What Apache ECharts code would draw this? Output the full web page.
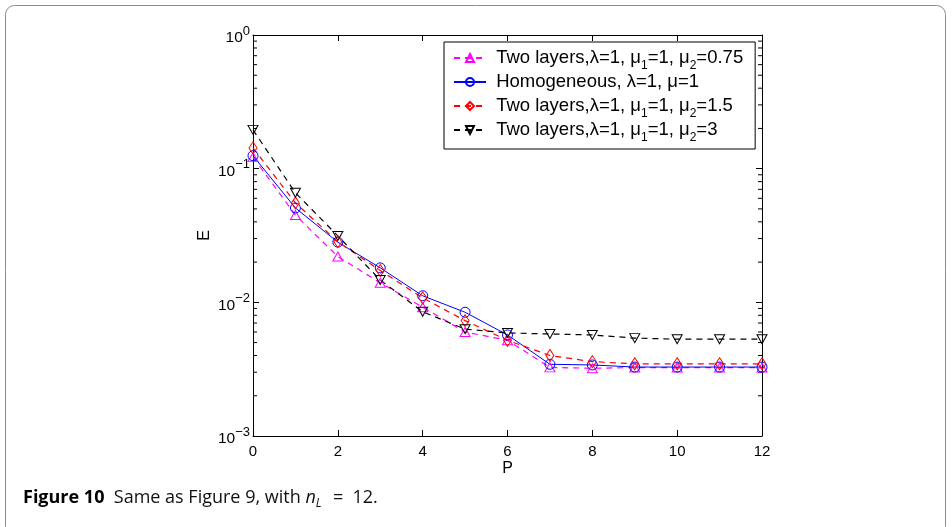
<!DOCTYPE html>
<html>
<head>
<meta charset="utf-8">
<title>Figure 10</title>
<script src="https://cdn.jsdelivr.net/npm/echarts@6/dist/echarts.min.js"></script>
<style>
  html, body { margin: 0; padding: 0; background: #fff; }
  #chart { width: 952px; height: 527px; }
</style>
</head>
<body>
<div id="chart"></div>
<script>
// Polynomial degree P on the x axis
const pValues = [0, 1, 2, 3, 4, 5, 6, 7, 8, 9, 10, 11, 12];

// Error E for each configuration
const twoLayers075 = [0.122, 0.045, 0.022, 0.0140, 0.0092, 0.0060, 0.0052, 0.00326, 0.00321, 0.00325, 0.00325, 0.00325, 0.00325];
const homogeneous  = [0.125, 0.0508, 0.0282, 0.0181, 0.0112, 0.00843, 0.0057, 0.00344, 0.0034, 0.00328, 0.00328, 0.00328, 0.00328];
const twoLayers15  = [0.143, 0.0554, 0.0284, 0.0173, 0.0108, 0.0073, 0.0052, 0.0040, 0.0036, 0.00347, 0.00347, 0.00347, 0.00347];
const twoLayers3   = [0.195, 0.066, 0.0314, 0.0147, 0.0085, 0.0063, 0.0059, 0.0058, 0.0057, 0.0054, 0.0053, 0.0053, 0.0053];

// Series names (legend entries)
const seriesNames = ['twoLayers075', 'homogeneous', 'twoLayers15', 'twoLayers3'];

// Minor tick positions of the logarithmic E axis
const minorTickValues = [];
[0.001, 0.01, 0.1].forEach(function (d) {
  for (let k = 2; k <= 9; k++) minorTickValues.push(+(d * k).toPrecision(3));
});

const FONT = '"Liberation Sans", Arial, Helvetica, sans-serif';
const CAPTION_FONT = '"Open Sans", "Noto Sans", sans-serif';

// Legend labels; every row carries a subscript slot so all rows share one height
const legendLabels = {
  twoLayers075: '{t| Two layers,λ=1, μ}{s|1}{t|=1, μ}{s|2}{t|=0.75}',
  homogeneous: '{t| Homogeneous, λ=1, μ=1}{s| }',
  twoLayers15: '{t| Two layers,λ=1, μ}{s|1}{t|=1, μ}{s|2}{t|=1.5}',
  twoLayers3: '{t| Two layers,λ=1, μ}{s|1}{t|=1, μ}{s|2}{t|=3}'
};

function pairs(ys) {
  return pValues.map(function (p, i) { return [p, ys[i]]; });
}

function lineSeries(name, ys, color, symbol, size, rotate, dashed, width) {
  return {
    name: name,
    type: 'line',
    data: pairs(ys),
    symbol: symbol,
    symbolSize: size,
    symbolRotate: rotate,
    showAllSymbol: true,
    lineStyle: { color: color, width: width, type: dashed ? [6, 5] : 'solid' },
    itemStyle: { color: 'rgba(255,255,255,0)', borderColor: color, borderWidth: 1 },
    emphasis: { disabled: true },
    animation: false,
    z: 3
  };
}

const chart = echarts.init(document.getElementById('chart'), null, { renderer: 'canvas' });

const option = {
  backgroundColor: '#fff',
  animation: false,
  grid: { left: 253, top: 35, right: 190, bottom: 91 },
  legend: {
    orient: 'vertical',
    left: 444,
    top: 42,
    padding: [2, 12, 5, 9],
    itemGap: -4,
    itemWidth: 32,
    itemHeight: 10,
    borderColor: '#000',
    borderWidth: 1,
    backgroundColor: '#fff',
    selectedMode: false,
    data: seriesNames,
    formatter: function (name) { return legendLabels[name]; },
    textStyle: {
      rich: {
        t: { fontFamily: FONT, fontSize: 18.5, color: '#000', lineHeight: 20 },
        s: { fontFamily: FONT, fontSize: 12, color: '#000', lineHeight: 20, padding: [16, 0, 0, 0] }
      }
    }
  },
  xAxis: [{
    type: 'value',
    min: 0,
    max: 12,
    interval: 2,
    name: 'P',
    nameLocation: 'middle',
    nameGap: 25,
    nameMoveOverlap: false,
    nameTextStyle: { fontFamily: FONT, fontSize: 16, color: '#000' },
    axisLine: { show: true, lineStyle: { color: '#000', width: 1 } },
    axisTick: { show: true, inside: true, length: 6, lineStyle: { color: '#000' } },
    axisLabel: { fontFamily: FONT, fontSize: 15, color: '#000', margin: 8 },
    splitLine: { show: false }
  }, {
    type: 'value',
    position: 'top',
    min: 0,
    max: 12,
    interval: 2,
    axisLine: { show: true, onZero: false, lineStyle: { color: '#000', width: 1 } },
    axisTick: { show: true, inside: true, length: 6, lineStyle: { color: '#000' } },
    axisLabel: { show: false },
    splitLine: { show: false }
  }],
  yAxis: [{
    type: 'log',
    logBase: 10,
    min: 0.001,
    max: 1,
    name: 'E',
    nameLocation: 'middle',
    nameGap: 40,
    nameMoveOverlap: false,
    nameTextStyle: { fontFamily: FONT, fontSize: 16, color: '#000' },
    axisLine: { show: true, lineStyle: { color: '#000', width: 1 } },
    axisTick: { show: true, inside: true, length: 6, lineStyle: { color: '#000' } },
    axisLabel: {
      margin: 3,
      formatter: function (v) {
        const e = Math.round(Math.log10(v));
        return '{b|10}{e|' + (e < 0 ? '−' + (-e) : String(e)) + '}';
      },
      rich: {
        b: { fontFamily: FONT, fontSize: 15.5, color: '#000', lineHeight: 20, padding: [6, 0, 0, 0] },
        e: { fontFamily: FONT, fontSize: 13, color: '#000', lineHeight: 20, padding: [0, 0, 8, 0] }
      }
    },
    splitLine: { show: false }
  }, {
    type: 'log',
    logBase: 10,
    min: 0.001,
    max: 1,
    position: 'right',
    axisLine: { show: true, onZero: false, lineStyle: { color: '#000', width: 1 } },
    axisTick: { show: true, inside: true, length: 6, lineStyle: { color: '#000' } },
    axisLabel: { show: false },
    splitLine: { show: false }
  }],
  series: [
    lineSeries('twoLayers075', twoLayers075, '#ff00ff', 'triangle', [10, 9], 0, true, 1.2),
    lineSeries('homogeneous', homogeneous, '#0000ff', 'circle', 10, 0, false, 1),
    lineSeries('twoLayers15', twoLayers15, '#ff0000', 'diamond', [8, 12], 0, true, 1.2),
    lineSeries('twoLayers3', twoLayers3, '#000000', 'triangle', [10, 9], 180, true, 1.2),
    {
      // Minor ticks of the log axis on both vertical edges of the frame
      type: 'custom',
      silent: true,
      animation: false,
      data: minorTickValues.map(function (v) { return [0, v]; }),
      encode: { x: 0, y: 1 },
      renderItem: function (params, api) {
        const v = api.value(1);
        const l = api.coord([0, v]);
        const r = api.coord([12, v]);
        const style = { stroke: '#000', lineWidth: 1 };
        return {
          type: 'group',
          children: [
            { type: 'line', shape: { x1: l[0], y1: l[1], x2: l[0] + 4, y2: l[1] }, style: style },
            { type: 'line', shape: { x1: r[0], y1: r[1], x2: r[0] - 4, y2: r[1] }, style: style }
          ]
        };
      },
      z: 2
    }
  ],
  graphic: [
    {
      type: 'rect',
      shape: { x: 5.5, y: 5.5, width: 940, height: 530, r: 9 },
      style: { fill: 'none', stroke: '#8c8c8c', lineWidth: 1 },
      silent: true,
      z: -1
    },
    {
      type: 'text',
      left: 23,
      top: 486,
      style: {
        text: '{bold|Figure 10}{reg|  Same as Figure 9, with }{it|n}{sub|L}{reg|  =  12.}',
        rich: {
          bold: { fontFamily: CAPTION_FONT, fontWeight: 'bold', fontSize: 18, fill: '#000', lineHeight: 24 },
          reg: { fontFamily: CAPTION_FONT, fontSize: 18, fill: '#111', lineHeight: 24 },
          it: { fontFamily: CAPTION_FONT, fontStyle: 'italic', fontSize: 18, fill: '#111', lineHeight: 24 },
          sub: { fontFamily: CAPTION_FONT, fontStyle: 'italic', fontSize: 12, fill: '#111', lineHeight: 24, verticalAlign: 'top', padding: [12, 2, 0, 0] }
        }
      }
    }
  ]
};

chart.setOption(option);
</script>
</body>
</html>
